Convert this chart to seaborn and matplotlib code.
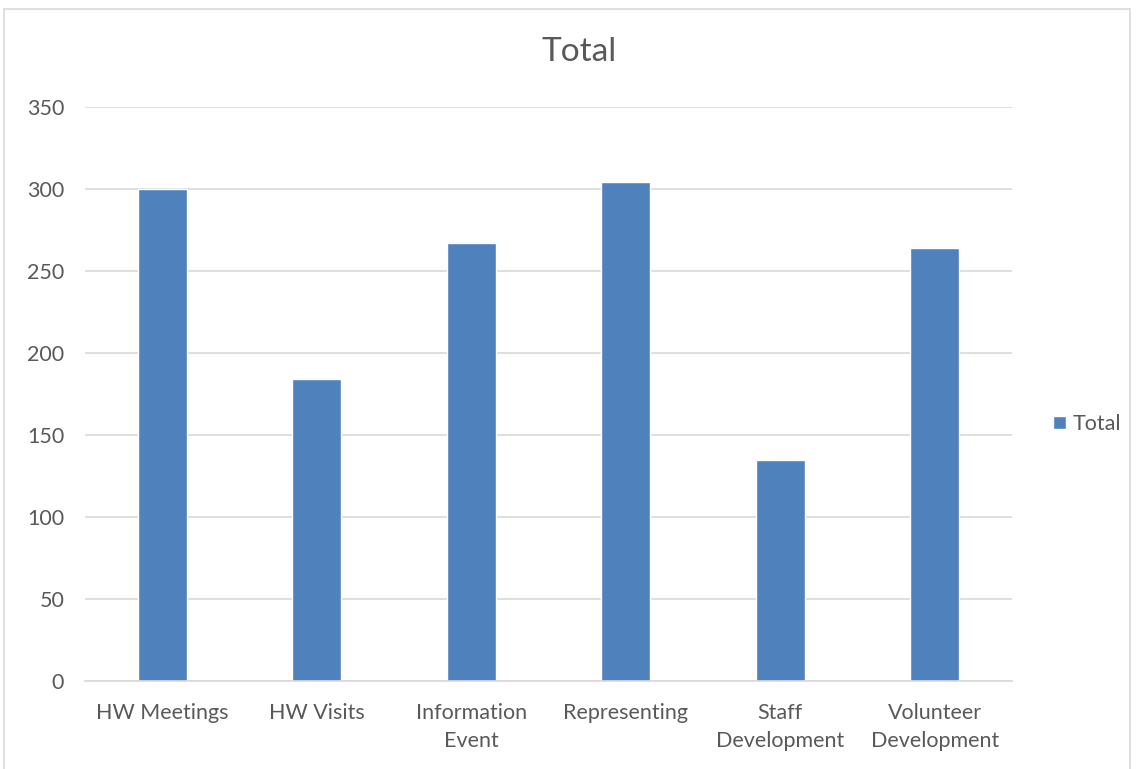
import matplotlib
matplotlib.use("Agg")
import matplotlib.pyplot as plt
import seaborn as sns
import pandas as pd
from matplotlib.patches import Rectangle

categories = ["HW Meetings", "HW Visits", "Information\nEvent", "Representing",
              "Staff\nDevelopment", "Volunteer\nDevelopment"]
values = [300, 184, 267, 304, 135, 264]
series_name = "Total"
yticks = [0, 50, 100, 150, 200, 250, 300, 350]

sns.set_style("white")
plt.rcParams['font.family'] = ['Lato', 'DejaVu Sans']

df = pd.DataFrame({"cat": categories, "val": values, "series": series_name})

fig = plt.figure(figsize=(11.36, 7.69), dpi=100)
ax = fig.add_axes([85/1136, 1-681/769, (1012-85)/1136, (681-107)/769])

sns.barplot(data=df, x="cat", y="val", hue="series", palette=["#4f81bd"],
            width=0.32, ax=ax, saturation=1)

ax.set_ylim(0, 350)
ax.set_yticks(yticks)
ax.set_xlim(-0.5, len(categories) - 0.5)
ax.yaxis.grid(True, color="#d9d9d9", linewidth=1.2)
ax.set_axisbelow(True)
for s in ["top", "right", "left"]:
    ax.spines[s].set_visible(False)
ax.spines["bottom"].set_color("#d9d9d9")
ax.spines["bottom"].set_linewidth(1.2)
ax.tick_params(axis="both", length=0, labelsize=15.5, colors="#595959")
ax.tick_params(axis="x", pad=16)
ax.tick_params(axis="y", pad=15)
ax.set_xlabel("")
ax.set_ylabel("")
for lbl in ax.get_xticklabels():
    lbl.set_linespacing(1.5)

fig.text(579/1136, 1-52/769, "Total", ha="center", va="center",
         fontsize=24, color="#595959")

leg = ax.legend(loc="center left", bbox_to_anchor=(1053/1136, 1-424/769),
                bbox_transform=fig.transFigure, frameon=False, fontsize=15.5,
                handlelength=0.6, handleheight=0.6, handletextpad=0.3,
                borderpad=0, borderaxespad=0)
for t in leg.get_texts():
    t.set_color("#595959")

fig.patches.append(Rectangle((4/1136, -0.01), 1126/1136, 1 - 9/769 + 0.01,
                             transform=fig.transFigure, fill=False,
                             edgecolor="#d9d9d9", linewidth=1.2))

fig.savefig("out.png", dpi=100)
